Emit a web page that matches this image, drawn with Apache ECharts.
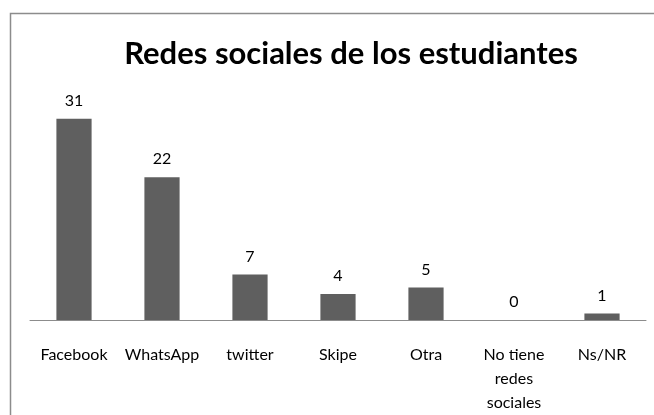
<!DOCTYPE html>
<html><head><meta charset="utf-8">
<script src="https://cdn.jsdelivr.net/npm/echarts@6/dist/echarts.min.js"></script>
<style>html,body{margin:0;padding:0;background:#fff;}#c{width:654px;height:415px;}</style>
</head><body><div id="c"></div>
<script>
const categories = ['Facebook', 'WhatsApp', 'twitter', 'Skipe', 'Otra', 'No tiene\nredes\nsociales', 'Ns/NR'];
const values = [31, 22, 7, 4, 5, 0, 1];
const titleText = 'Redes sociales de los estudiantes';

const chart = echarts.init(document.getElementById('c'), null, {renderer: 'canvas'});
const font = 'Lato, "Open Sans", sans-serif';
chart.setOption({
  backgroundColor: '#fff',
  animation: false,
  graphic: [{
    type: 'rect', left: 8, top: 11, shape: {width: 700, height: 500},
    style: {fill: 'none', stroke: '#8c8c8c', lineWidth: 1.5}, silent: true
  }],
  title: {
    text: titleText, left: 346, top: 33, textAlign: 'center',
    textStyle: {fontFamily: font, fontWeight: 'bold', fontSize: 31, color: '#000'}
  },
  grid: {left: 30, right: 8, top: 92.7, bottom: 92, containLabel: false},
  xAxis: {
    type: 'category', data: categories,
    axisLine: {show: true, lineStyle: {color: '#8c8c8c', width: 1}},
    axisTick: {show: false},
    axisLabel: {color: '#000', fontFamily: font, fontSize: 16, margin: 23, lineHeight: 24, interval: 0}
  },
  yAxis: {type: 'value', min: 0, max: 35, show: false, splitLine: {show: false}},
  series: [{
    type: 'bar', data: values, barWidth: '40%',
    itemStyle: {color: '#5f5f5f'},
    label: {show: true, position: 'top', distance: 10, color: '#000', fontFamily: font, fontSize: 16}
  }]
});
</script></body></html>
